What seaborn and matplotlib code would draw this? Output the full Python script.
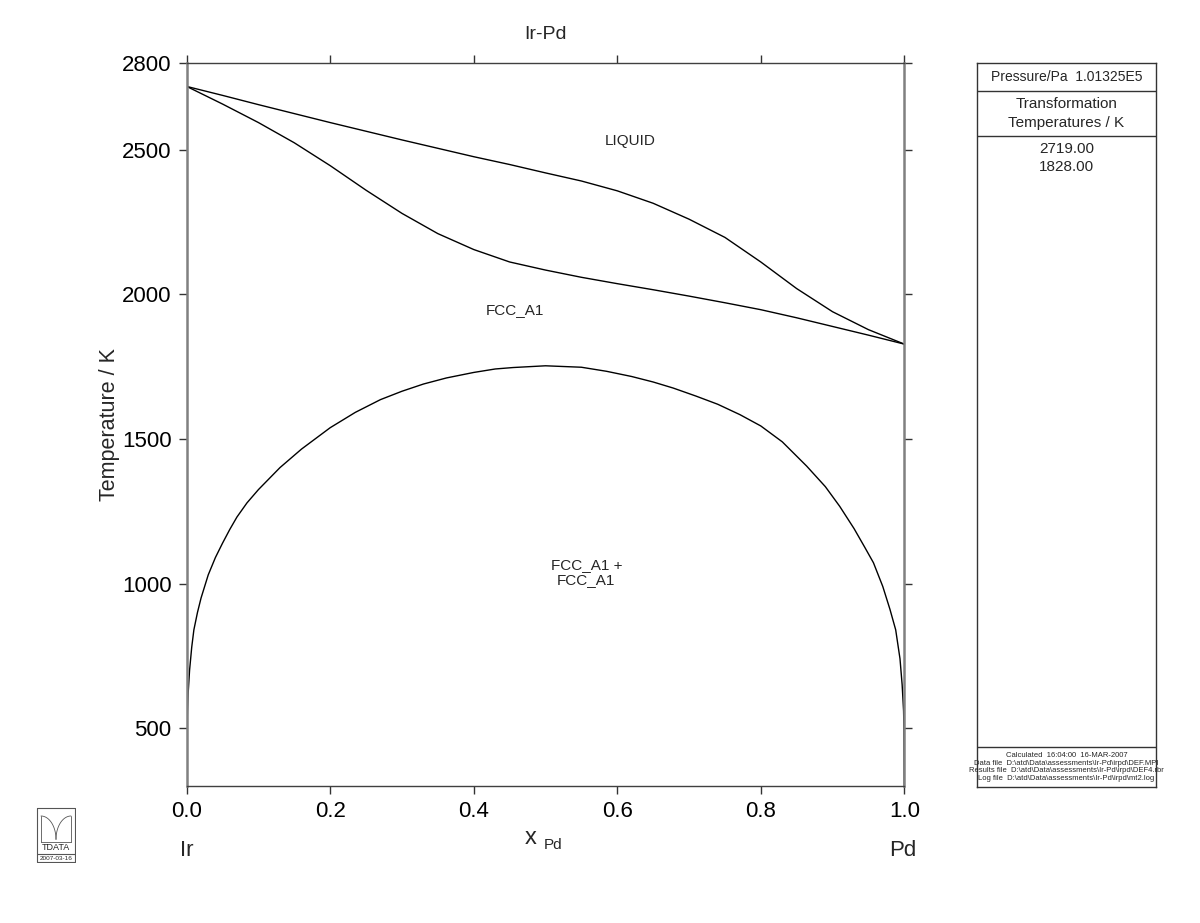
import numpy as np
import pandas as pd
import matplotlib
matplotlib.use("Agg")
import matplotlib.pyplot as plt
import seaborn as sns

# Data
x_liquidus = [0.0, 0.05, 0.1, 0.15, 0.2, 0.25, 0.3, 0.35, 0.4, 0.45, 0.5,
              0.55, 0.6, 0.65, 0.7, 0.75, 0.8, 0.85, 0.9, 0.95, 1.0]
T_liquidus = [2719, 2688, 2656, 2625, 2594, 2564, 2534, 2505, 2476, 2449, 2420,
              2392, 2358, 2315, 2260, 2197, 2112, 2020, 1940, 1878, 1828]

x_solidus = [0.0, 0.05, 0.1, 0.15, 0.2, 0.25, 0.3, 0.35, 0.4, 0.45, 0.5,
             0.55, 0.6, 0.65, 0.7, 0.75, 0.8, 0.85, 0.9, 0.95, 1.0]
T_solidus = [2719, 2658, 2594, 2524, 2445, 2360, 2280, 2210, 2155, 2112, 2084,
             2059, 2037, 2016, 1994, 1971, 1947, 1919, 1889, 1859, 1828]

x_gap = [0.0, 0.0005, 0.001, 0.002, 0.004, 0.007, 0.01, 0.015, 0.02, 0.03,
         0.04, 0.05, 0.06, 0.07, 0.084, 0.1, 0.13, 0.16, 0.2, 0.235,
         0.27, 0.3, 0.33, 0.362, 0.4, 0.43, 0.455, 0.5, 0.55, 0.585,
         0.62, 0.65, 0.678, 0.71, 0.74, 0.771, 0.8, 0.83, 0.864, 0.89,
         0.91, 0.93, 0.945, 0.957, 0.97, 0.98, 0.988, 0.994, 0.997, 0.999,
         0.9995, 1.0]
T_gap = [300, 500, 560, 620, 700, 780, 840, 900, 950, 1030,
         1090, 1140, 1187, 1230, 1279, 1325, 1401, 1465, 1539, 1592,
         1636, 1665, 1690, 1711, 1730, 1742, 1747, 1753, 1748, 1734,
         1716, 1697, 1676, 1648, 1620, 1584, 1545, 1490, 1406, 1335,
         1267, 1190, 1125, 1072, 990, 911, 840, 740, 650, 560,
         500, 300]

x_ticks = [0.0, 0.2, 0.4, 0.6, 0.8, 1.0]
T_ticks = [500, 1000, 1500, 2000, 2500, 2800]
transformation_temps = ["2719.00", "1828.00"]
footer_lines = [
    "Calculated  16:04:00  16-MAR-2007",
    r"Data file  D:\atd\Data\assessments\Ir-Pd\irpd\DEF.MPI",
    r"Results file  D:\atd\Data\assessments\Ir-Pd\irpd\DEF4.rbr",
    r"Log file  D:\atd\Data\assessments\Ir-Pd\irpd\mt2.log",
]

sns.set_theme(style="ticks")
plt.rcParams['font.family'] = ['Liberation Sans', 'DejaVu Sans']

W, H = 1200, 923
fig = plt.figure(figsize=(12, 9.23), dpi=100)


def fx(px):
    return px / W


def fy(py):
    return 1 - py / H


ax = fig.add_axes([fx(186.7), fy(786), (904.3 - 186.7) / W, (786 - 63) / H])

curves = [
    pd.DataFrame({"x": x_liquidus, "T": T_liquidus}),
    pd.DataFrame({"x": x_solidus, "T": T_solidus}),
    pd.DataFrame({"x": x_gap, "T": T_gap}),
]
for df in curves:
    sns.lineplot(data=df, x="x", y="T", sort=False, estimator=None,
                 color="black", linewidth=1.0, ax=ax)

ax.set_xlim(0, 1)
ax.set_ylim(300, 2800)
ax.set_xticks(x_ticks)
ax.set_xticklabels([f"{v:.1f}" for v in x_ticks])
ax.set_yticks(T_ticks)
ax.set_xlabel("")
ax.set_ylabel("Temperature / K", fontsize=15.5, labelpad=1)
ax.set_title("Ir-Pd", fontsize=14, pad=17)
ax.tick_params(axis="both", which="both", direction="out", length=6, width=1,
               colors="#333333", labelcolor="black", labelsize=16, pad=5,
               top=True, right=True, labeltop=False, labelright=False)
for side in ["left", "right"]:
    ax.spines[side].set_color("#808080")
    ax.spines[side].set_linewidth(1.8)
for side in ["top", "bottom"]:
    ax.spines[side].set_color("#404040")
    ax.spines[side].set_linewidth(1.0)

# phase region labels
ax.text(0.618, 2530, "LIQUID", fontsize=11, ha="center", va="center")
ax.text(0.457, 1947, "FCC_A1", fontsize=11, ha="center", va="center")
ax.text(0.557, 1038, "FCC_A1 +\nFCC_A1", fontsize=11, ha="center", va="center",
        linespacing=1.1)

# axis composition labels
fig.text(fx(531), fy(838), "x", fontsize=17, ha="center", va="center")
fig.text(fx(553), fy(845), "Pd", fontsize=11, ha="center", va="center")
fig.text(fx(187), fy(851), "Ir", fontsize=16, ha="center", va="center")
fig.text(fx(903), fy(851), "Pd", fontsize=16, ha="center", va="center")

# right information panel
box_l, box_r, box_t, box_b = 976.7, 1156, 63.3, 787
pax = fig.add_axes([fx(box_l), fy(box_b), (box_r - box_l) / W, (box_b - box_t) / H])
pax.set_xticks([])
pax.set_yticks([])
pax.set_xlim(box_l, box_r)
pax.set_ylim(box_b, box_t)
for s in pax.spines.values():
    s.set_color("#333333")
    s.set_linewidth(1.0)
for yl in [90.7, 136, 746.7]:
    pax.axhline(yl, color="#333333", linewidth=1.0)
cx = (box_l + box_r) / 2
pax.text(cx, 77.3, "Pressure/Pa  1.01325E5", fontsize=10, ha="center", va="center")
pax.text(cx, 104, "Transformation", fontsize=11, ha="center", va="center")
pax.text(cx, 122.7, "Temperatures / K", fontsize=11, ha="center", va="center")
for i, t in enumerate(transformation_temps):
    pax.text(cx, 149 + 18 * i, t, fontsize=11, ha="center", va="center")
for i, line in enumerate(footer_lines):
    pax.text(cx, 755.7 + 7.5 * i, line, fontsize=5.5, ha="center", va="center",
             clip_on=False)

# TDATA logo
lax = fig.add_axes([fx(36), fy(863), 40 / W, 56 / H])
lax.set_xlim(-1, 39)
lax.set_ylim(55, -1)
lax.axis("off")
lc = "#555555"
lax.plot([0, 38, 38, 0, 0], [0, 0, 54, 54, 0], color=lc, linewidth=0.8)
lax.plot([0, 38], [46, 46], color=lc, linewidth=0.8)
lax.text(19, 50.3, "2007-03-16", fontsize=4.6, ha="center", va="center")
lax.text(19, 40, "TDATA", fontsize=6.5, ha="center", va="center")
lax.plot([4, 34], [34, 34], color=lc, linewidth=0.6)
t = np.linspace(0, np.pi / 2, 30)
lax.plot(4 + 15 * np.sin(t), 8 + 23.4 * (1 - np.cos(t)), color=lc, linewidth=0.6)
lax.plot(34 - 15 * np.sin(t), 8 + 23.4 * (1 - np.cos(t)), color=lc, linewidth=0.6)
lax.plot([4, 4], [8, 34], color=lc, linewidth=0.6)
lax.plot([34, 34], [8, 34], color=lc, linewidth=0.6)

fig.savefig("out.png", dpi=100)
